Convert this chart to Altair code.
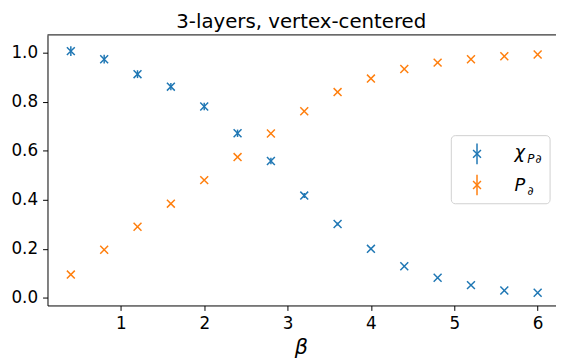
import altair as alt
import pandas as pd

beta = [0.4, 0.8, 1.2, 1.6, 2.0, 2.4, 2.8, 3.2, 3.6, 4.0, 4.4, 4.8, 5.2, 5.6, 6.0]
chi = [1.006, 0.973, 0.912, 0.861, 0.780, 0.671, 0.558, 0.417, 0.301, 0.200, 0.129, 0.082, 0.052, 0.030, 0.021]
chi_err = [0.020, 0.018, 0.016, 0.015, 0.015, 0.015, 0.013, 0.010, 0.006, 0.004, 0.003, 0.002, 0.002, 0.001, 0.001]
pd_vals = [0.095, 0.196, 0.290, 0.384, 0.480, 0.574, 0.670, 0.761, 0.839, 0.894, 0.933, 0.959, 0.973, 0.985, 0.992]
pd_err = [0.002] * 15
series_names = ["chi", "P"]
colors = ["#1f77b4", "#ff7f0e"]
x_ticks = [1, 2, 3, 4, 5, 6]
y_ticks = [0.0, 0.2, 0.4, 0.6, 0.8, 1.0]
title_text = "3-layers, vertex-centered"

rows = []
for b, v, e in zip(beta, chi, chi_err):
    rows.append({"beta": b, "val": v, "lo": v - e, "hi": v + e, "series": "chi"})
for b, v, e in zip(beta, pd_vals, pd_err):
    rows.append({"beta": b, "val": v, "lo": v - e, "hi": v + e, "series": "P"})
df = pd.DataFrame(rows)
one = pd.DataFrame({"k": [0]})

W, H = 515, 274
FONT = "DejaVu Sans"
XPATH = "M-1,-1L1,1M-1,1L1,-1"

xs = alt.Scale(domain=[0.12, 6.22], nice=False, zero=False)
ys = alt.Scale(domain=[-0.031, 1.072], nice=False, zero=False)
cs = alt.Scale(domain=series_names, range=colors)

xenc = alt.X("beta:Q", scale=xs, axis=alt.Axis(values=x_ticks, format="d", title=None, labelPadding=5))
yenc = alt.Y("val:Q", scale=ys, axis=alt.Axis(values=y_ticks, format=".1f", title=None, labelPadding=5))
cenc = alt.Color("series:N", scale=cs, legend=None)

base = alt.Chart(df)
err = base.mark_rule(strokeWidth=1.5).encode(
    x=xenc, y=alt.Y("lo:Q", scale=ys), y2="hi:Q", color=cenc
)
pts = base.mark_point(shape=XPATH, size=64, filled=False, strokeWidth=1.5, opacity=1).encode(
    x=xenc, y=yenc, color=cenc
)

top = alt.Chart(one).mark_rule(color="black", strokeWidth=1).encode(
    x=alt.value(0), x2=alt.value(W), y=alt.value(0)
)

title = alt.Chart(one).mark_text(
    text=title_text, font=FONT, fontSize=20, align="center", baseline="alphabetic", color="black"
).encode(x=alt.value(257), y=alt.value(-7))

xlabel = alt.Chart(one).mark_text(
    text="β", font=FONT, fontSize=21, fontStyle="italic", align="center", baseline="alphabetic", color="black"
).encode(x=alt.value(257), y=alt.value(323))

# legend
lx0, lx1, ly0, ly1 = 409, 509, 102, 171
leg_box = alt.Chart(one).mark_rect(
    fill="white", stroke="#cccccc", strokeWidth=1, cornerRadius=4, opacity=0.9
).encode(x=alt.value(lx0), x2=alt.value(lx1), y=alt.value(ly0), y2=alt.value(ly1))

sx = 435
leg_layers = [leg_box]
for yc, col in [(120.5, colors[0]), (152, colors[1])]:
    leg_layers.append(
        alt.Chart(one).mark_rule(color=col, strokeWidth=1.5).encode(
            x=alt.value(sx), y=alt.value(yc - 10.5), y2=alt.value(yc + 10.5)
        )
    )
    leg_layers.append(
        alt.Chart(one).mark_point(shape=XPATH, size=64, filled=False, strokeWidth=1.5, color=col, opacity=1).encode(
            x=alt.value(sx), y=alt.value(yc)
        )
    )

def txt(s, x, y, size, italic=True):
    kw = dict(text=s, font=FONT, fontSize=size, align="left", baseline="alphabetic", color="black")
    if italic:
        kw["fontStyle"] = "italic"
    return alt.Chart(one).mark_text(**kw).encode(x=alt.value(x), y=alt.value(y))

leg_layers += [
    txt("χ", 473, 125, 18),
    txt("P", 486, 130, 12),
    txt("∂", 494, 130, 12, italic=False),
    txt("P", 473, 158, 18),
    txt("∂", 486, 162, 12, italic=False),
]

chart = alt.layer(err, pts, top, title, xlabel, *leg_layers).properties(
    width=W, height=H,
    autosize=alt.AutoSizeParams(type="none"),
    padding={"left": 40, "top": 25, "right": 0, "bottom": 55},
).configure_view(stroke=None).configure_axis(
    labelFont=FONT, labelFontSize=17, labelColor="black",
    domainColor="black", domainWidth=1, tickColor="black", tickWidth=1, tickSize=5,
    grid=False,
)

chart.save("out.html", embed_options={"renderer": "svg", "actions": False})
